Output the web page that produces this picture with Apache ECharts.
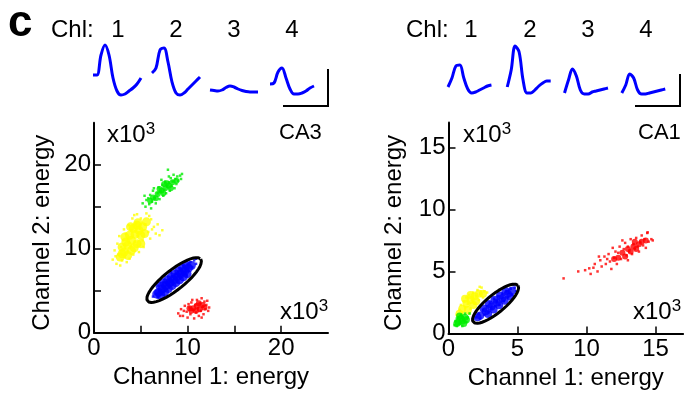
<!DOCTYPE html>
<html>
<head>
<meta charset="utf-8">
<script src="https://cdn.jsdelivr.net/npm/echarts@6/dist/echarts.min.js"></script>
<style>
  html, body { margin: 0; padding: 0; background: #fff; }
  #main { width: 685px; height: 398px; }
</style>
</head>
<body>
<div id="main"></div>
<script>
// spike waveforms, one amplitude array per channel (sampled every 4 time units)
var ca3Waves = [
    [25, 25, 45, 55, 45, 22, 9, 5, 6, 9, 12, 16, 22],
    [27, 32, 50, 52, 38, 18, 7, 5, 7, 11, 15, 19, 23],
    [10, 9.5, 9, 10, 12.5, 14, 13, 11, 9.5, 8.5, 8, 8, 8],
    [16, 17, 28, 32, 22, 11, 6, 6, 7, 9, 12, 14]
];
var ca1Waves = [
    [13, 22, 34, 35, 22, 11, 7, 8, 10, 12, 14, 15],
    [13, 30, 54, 48, 20, 7, 7, 10, 14, 17, 19, 19],
    [7, 20, 31, 24, 10, 6, 6, 8, 9, 10, 11, 12],
    [7, 15, 26, 22, 10, 6, 6, 7, 8, 9, 10, 11]
];
var ca3WaveStart = [0, 59, 117, 177];
var ca1WaveStart = [0, 60, 118, 176];
var channels = ['1', '2', '3', '4'];

// CA3 clusters (x10^3 energy)
var ca3Green = [[5.2,15.4],[5.5,15.0],[5.6,15.8],[5.9,15.3],[6.0,16.4],[6.2,15.6],[6.3,16.9],[6.5,16.0],[6.6,15.4],[6.8,16.6],
    [6.9,17.3],[7.0,15.9],[7.1,16.8],[7.3,17.6],[7.4,16.3],[7.5,17.0],[7.6,18.0],[7.7,16.6],[7.8,17.4],[7.9,19.4],[8.0,17.9],
    [8.1,16.9],[8.2,18.4],[8.3,17.5],[8.4,18.0],[8.5,18.8],[8.6,17.2],[8.7,18.3],[8.8,17.7],[8.9,18.6],[9.0,18.1],[9.2,18.7],
    [9.3,18.3],[6.1,14.8],[5.8,16.0],[7.2,18.2],[8.0,18.6],[6.4,17.2],[5.4,16.3],[9.4,18.9]];
var ca3GreenCore = [[6.3,16.1],[6.8,16.5],[7.2,16.9],[7.6,17.2],[8.0,17.5],[8.4,17.9],[7.0,17.1],[7.8,17.8],[6.6,16.0],
    [7.4,16.6],[8.8,18.1],[6.0,15.7],[8.2,17.2],[7.5,17.7]];
var ca3Yellow = [[2.0,8.7],[2.4,8.2],[2.8,8.0],[3.0,8.6],[2.6,9.3],[3.3,9.0],[2.2,9.8],[3.5,8.4],[2.9,10.2],[3.6,9.7],[2.5,10.6],
    [3.1,11.0],[3.9,10.3],[4.2,9.3],[3.4,11.8],[4.4,10.8],[4.0,12.2],[4.7,11.5],[3.7,12.8],[4.5,13.0],[4.9,12.4],[5.2,11.0],
    [5.0,13.6],[4.3,14.0],[5.5,12.9],[5.8,12.0],[5.6,14.2],[6.1,13.5],[6.4,12.6],[6.8,12.9],[7.3,12.2],[6.0,11.2],[5.3,10.2],
    [4.8,9.6],[4.1,13.6],[3.2,12.3],[2.7,11.5],[5.9,13.9],[6.6,11.8],[4.6,14.1],[3.8,8.8],[7.0,11.6],[2.3,9.1],[6.2,12.3]];
var ca3YellowCore = [[3.2,9.6],[3.6,10.4],[4.0,11.0],[4.4,11.7],[4.8,12.2],[5.2,12.6],[3.8,11.6],[4.6,10.6],[5.0,11.6],
    [4.2,12.4],[3.4,10.8],[4.3,10.1],[2.8,9.0],[3.0,10.2],[3.6,9.2],[4.0,9.8],[3.3,11.4],[3.9,12.6],[4.7,13.1],[5.4,11.8],
    [5.0,10.6],[4.6,12.8],[5.6,13.2],[3.0,9.4]];
var ca3Blue = [[6.3,4.3],[6.6,4.6],[6.8,4.2],[7.0,5.0],[7.2,4.6],[7.3,5.5],[7.5,5.0],[7.7,5.9],[7.8,5.2],[8.0,6.2],[8.1,5.5],
    [8.3,6.7],[8.4,5.8],[8.6,6.4],[8.7,7.0],[8.9,6.0],[9.0,7.3],[9.2,6.5],[9.3,7.6],[9.5,6.9],[9.6,7.9],[9.8,7.2],[10.0,8.1],
    [10.1,7.4],[10.3,8.4],[10.5,7.8],[10.7,8.6],[10.9,8.2],[10.9,8.8],[7.4,6.0],[9.9,6.8],[8.2,7.2],[6.9,5.6]];
var ca3BlueCore = [[6.7,4.6],[6.9,4.8],[7.3,5.2],[7.7,5.6],[8.1,5.95],[8.5,6.3],[8.9,6.65],[9.3,7.0],[9.7,7.35],[10.1,7.7],[10.4,8.0],
    [7.14,4.46],[7.54,4.86],[7.94,5.26],[8.34,5.61],[8.74,5.96],[9.14,6.31],[9.54,6.66],[9.94,7.01],
    [7.06,5.54],[7.46,5.94],[7.86,6.29],[8.26,6.64],[8.66,6.99],[9.06,7.34],[9.46,7.69],[9.86,8.04]];
var ca3Red = [[9.0,2.3],[9.3,2.8],[9.5,2.0],[9.7,3.2],[9.9,2.5],[10.0,1.8],[10.2,3.0],[10.3,2.2],[10.4,3.6],[10.6,2.7],[10.7,1.7],
    [10.8,3.3],[10.9,2.4],[11.0,3.9],[11.1,2.9],[11.2,2.0],[11.3,3.5],[11.4,2.6],[11.5,4.1],[11.6,3.1],[11.7,2.2],[11.8,3.7],
    [11.9,2.8],[12.0,3.3],[12.2,2.6],[12.3,3.0],[10.5,3.9],[11.5,1.8],[9.6,2.6],[12.1,3.8],[9.2,2.0],[10.1,3.4]];
var ca3RedCore = [[10.6,2.9],[11.0,3.2],[11.3,2.8],[10.9,2.6],[11.6,3.3],[10.4,2.6],[11.2,3.5],[11.8,3.0],[10.2,2.9]];

// CA1 clusters (x10^3 energy)
var ca1Red = [[8.34,4.44],[9.4,5.0],[9.9,5.1],[10.2,5.25],[10.3,4.8],[10.6,5.6],[10.8,5.0],[11.0,5.9],[11.1,5.4],[11.3,6.2],
    [11.4,5.6],[11.6,6.4],[11.7,5.8],[11.9,6.9],[12.0,6.1],[12.2,5.6],[12.3,6.5],[12.4,7.0],[12.5,6.0],[12.7,6.8],[12.8,7.3],
    [12.9,6.3],[13.0,7.0],[13.1,6.6],[13.2,7.6],[13.3,6.4],[13.4,7.2],[13.5,6.8],[13.6,7.7],[13.7,7.0],[13.8,6.6],[13.9,7.4],
    [14.0,7.9],[14.1,7.1],[14.2,7.6],[14.4,8.1],[14.5,7.4],[14.7,7.6],[14.8,7.5],[14.43,8.15],[11.8,5.2],[10.9,6.2],[12.6,7.5],
    [13.0,5.9],[10.5,5.3],[11.5,6.0],[12.1,6.6],[14.3,6.9]];
var ca1RedCore = [[12.6,6.5],[13.0,6.8],[13.4,7.0],[13.8,7.2],[13.2,6.6],[12.8,6.2],[14.0,7.4],[13.6,6.8],[12.3,6.1],
    [13.5,7.4],[14.3,7.5],[12.0,6.0]];
var ca1Yellow = [[0.6,1.5],[0.8,1.9],[0.9,2.3],[1.0,1.7],[1.1,2.6],[1.2,2.1],[1.3,2.9],[1.4,2.4],[1.5,3.1],[1.6,2.0],[1.7,2.7],
    [1.8,3.3],[1.9,2.4],[2.0,3.0],[2.1,3.5],[2.2,2.7],[2.3,3.2],[2.4,3.7],[2.5,2.9],[2.6,3.4],[2.26,3.76],[2.8,3.3],[1.5,1.6],[0.9,1.4]];
var ca1YellowCore = [[1.0,2.0],[1.3,2.4],[1.6,2.7],[1.9,3.0],[2.2,3.2],[1.4,1.9],[1.8,2.3],[2.5,3.2],[0.8,1.6],[1.2,2.8],
    [1.6,3.1],[2.0,2.6]];
var ca1Green = [[0.44,0.67],[0.5,1.0],[0.6,0.6],[0.7,1.3],[0.8,0.8],[0.9,1.5],[1.0,0.6],[1.1,1.1],[1.2,1.6],[1.3,0.9],[1.4,1.3],
    [1.53,1.61],[0.6,1.2],[1.0,1.3]];
var ca1GreenCore = [[0.7,0.9],[1.0,1.0],[1.2,1.3],[0.9,1.2],[0.6,0.8],[1.3,1.1],[1.1,0.8],[0.8,1.4]];
var ca1Blue = [[2.0,1.3],[2.2,1.6],[2.3,1.2],[2.5,1.9],[2.6,1.5],[2.8,2.2],[2.9,1.7],[3.0,2.5],[3.1,2.0],[3.3,2.8],[3.4,2.2],
    [3.5,2.6],[3.6,3.0],[3.7,2.3],[3.9,3.2],[4.0,2.6],[4.2,3.4],[4.3,2.9],[4.5,3.6],[4.6,3.1],[4.8,3.7],[4.9,3.4],[4.7,3.9]];
var ca1BlueCore = [[2.1,1.3],[2.3,1.45],[2.7,1.8],[3.1,2.15],[3.5,2.5],[3.9,2.85],[4.3,3.2],[4.6,3.45],
    [2.87,1.58],[3.27,1.93],[3.67,2.28],[4.07,2.63],[4.47,2.98],
    [2.53,2.02],[2.93,2.37],[3.33,2.72],[3.73,3.07],[4.13,3.42]];

// selected-cluster ellipses: centre, semi-major and semi-minor vectors (data units)
var ca3Ellipse = { center: [8.56, 6.27], major: [2.84, 2.50], minor: [0.66, -0.935] };
var ca1Ellipse = { center: [3.41, 2.40], major: [1.62, 1.48], minor: [0.414, -0.56] };

var FONT = "'Liberation Sans', Arial, sans-serif";
var BLUE = '#0000ff', GREEN = '#00ee00', YELLOW = '#ffff00', RED = '#ff0000';

function ellipsePoints(e) {
    var pts = [];
    for (var i = 0; i <= 90; i++) {
        var t = i / 90 * Math.PI * 2;
        pts.push([e.center[0] + e.major[0] * Math.cos(t) + e.minor[0] * Math.sin(t),
                  e.center[1] + e.major[1] * Math.cos(t) + e.minor[1] * Math.sin(t)]);
    }
    return pts;
}

function cloud(pts, color, size, g, symbol) {
    return {
        type: 'scatter', xAxisIndex: g, yAxisIndex: g, data: pts, silent: true,
        symbol: symbol || 'rect', symbolSize: size, itemStyle: { color: color }
    };
}

function waveSeries(waves, starts, g) {
    return waves.map(function (w, i) {
        return {
            type: 'line', xAxisIndex: g, yAxisIndex: g, showSymbol: false, smooth: 0.35, silent: true,
            lineStyle: { color: BLUE, width: 3 },
            data: w.map(function (v, k) { return [starts[i] + k * 4, v]; })
        };
    });
}

function ellipseSeries(e, g) {
    return {
        type: 'line', xAxisIndex: g, yAxisIndex: g, showSymbol: false, silent: true,
        lineStyle: { color: '#000', width: 3 }, data: ellipsePoints(e)
    };
}

function energyAxis(g, max, ticks, labels, name, gap, isY) {
    return {
        gridIndex: g, type: 'value', min: 0, max: max,
        axisLine: { show: true, onZero: false, lineStyle: { color: '#000', width: 2 } },
        axisTick: { show: true, inside: true, length: 7, customValues: ticks, lineStyle: { color: '#000', width: 1.5 } },
        axisLabel: { customValues: labels, color: '#000', fontSize: 24, fontFamily: FONT, margin: isY ? 3 : 4 },
        splitLine: { show: false },
        name: name, nameLocation: 'middle', nameGap: gap,
        nameTextStyle: { color: '#000', fontSize: 24, fontFamily: FONT, padding: isY ? [0, 10, 0, 0] : 0 }
    };
}

function hiddenAxis(g, max) {
    return { gridIndex: g, type: 'value', min: 0, max: max, show: false };
}

function label(text, x, y, size, align, weight) {
    return {
        type: 'text', x: x, y: y, silent: true,
        style: {
            text: text, fill: '#000', font: (weight || 'normal') + ' ' + size + 'px ' + FONT,
            textAlign: align || 'left', textVerticalAlign: 'middle'
        }
    };
}

// "x10" with a raised exponent
function power(x, y) {
    return {
        type: 'text', x: x, y: y, silent: true,
        style: {
            text: '{b|x10}{s|3}', textAlign: 'left', textVerticalAlign: 'middle',
            rich: {
                b: { fontSize: 24, fontFamily: FONT, fill: '#000', color: '#000', lineHeight: 26, verticalAlign: 'bottom' },
                s: { fontSize: 17, fontFamily: FONT, fill: '#000', color: '#000', lineHeight: 18, verticalAlign: 'top' }
            }
        }
    };
}

var chart = echarts.init(document.getElementById('main'));

var graphics = [
    label('c', 8, 24, 44, 'left', 'bold'),
    label('Chl:', 51, 30, 24),
    label('Chl:', 406, 30, 24),
    power(107, 134),
    power(463, 134),
    power(280, 311),
    power(633, 311),
    label('CA3', 279, 133, 22),
    label('CA1', 638, 133, 22),
    { type: 'polyline', silent: true, shape: { points: [[283, 106], [328, 106], [328, 69]] }, style: { stroke: '#000', lineWidth: 2, fill: null } },
    { type: 'polyline', silent: true, shape: { points: [[635, 106], [680, 106], [680, 74]] }, style: { stroke: '#000', lineWidth: 2, fill: null } }
];
[118, 176, 234, 292].forEach(function (x, i) { graphics.push(label(channels[i], x, 30, 24, 'center')); });
[471, 530, 588, 646].forEach(function (x, i) { graphics.push(label(channels[i], x, 30, 24, 'center')); });

var option = {
    animation: false,
    backgroundColor: '#fff',
    grid: [
        { left: 94, top: 122.7, width: 234, height: 210 },
        { left: 448.5, top: 122.5, width: 234.6, height: 211 },
        { left: 93, top: 40, width: 240, height: 60 },
        { left: 448, top: 40, width: 240, height: 60 }
    ],
    xAxis: [
        energyAxis(0, 25, [5, 10, 15, 20], [0, 10, 20], 'Channel 1: energy', 29, false),
        energyAxis(1, 17, [5, 10, 15], [0, 5, 10, 15], 'Channel 1: energy', 29, false),
        hiddenAxis(2, 240),
        hiddenAxis(3, 240)
    ],
    yAxis: [
        energyAxis(0, 25, [5, 10, 15, 20], [0, 10, 20], 'Channel 2: energy', 40, true),
        energyAxis(1, 17, [5, 10, 15], [0, 5, 10, 15], 'Channel 2: energy', 42, true),
        hiddenAxis(2, 60),
        hiddenAxis(3, 60)
    ],
    graphic: graphics,
    series: [].concat(
        waveSeries(ca3Waves, ca3WaveStart, 2),
        waveSeries(ca1Waves, ca1WaveStart, 3),
        [
            cloud(ca3Green, GREEN, 2.5, 0), cloud(ca3GreenCore, GREEN, 6, 0, 'circle'),
            cloud(ca3Yellow, YELLOW, 2.5, 0), cloud(ca3YellowCore, YELLOW, 9, 0, 'circle'),
            cloud(ca3Red, RED, 2.5, 0), cloud(ca3RedCore, RED, 6, 0, 'circle'),
            cloud(ca3Blue, BLUE, 2.5, 0), cloud(ca3BlueCore, BLUE, 9, 0, 'circle'),
            ellipseSeries(ca3Ellipse, 0),
            cloud(ca1Red, RED, 2.5, 1), cloud(ca1RedCore, RED, 6, 1, 'circle'),
            cloud(ca1Yellow, YELLOW, 2.5, 1), cloud(ca1YellowCore, YELLOW, 8, 1, 'circle'),
            cloud(ca1Green, GREEN, 2.5, 1), cloud(ca1GreenCore, GREEN, 7, 1, 'circle'),
            cloud(ca1Blue, BLUE, 2.5, 1), cloud(ca1BlueCore, BLUE, 8, 1, 'circle'),
            ellipseSeries(ca1Ellipse, 1)
        ]
    )
};

chart.setOption(option);
</script>
</body>
</html>
